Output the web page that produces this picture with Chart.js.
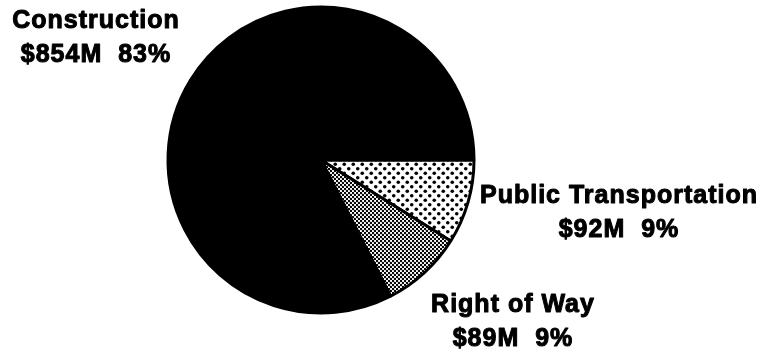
<!DOCTYPE html>
<html>
<head>
<meta charset="utf-8">
<script src="https://cdn.jsdelivr.net/npm/chart.js@4/dist/chart.umd.min.js"></script>
<style>
  html, body { margin: 0; padding: 0; background: #fff; }
  #wrap { width: 761px; height: 352px; }
</style>
</head>
<body>
<div id="wrap"><canvas id="c" width="761" height="352"></canvas></div>
<script>
// Budget shares (millions of dollars), drawn clockwise from 3 o'clock
const categories = ['Public Transportation', 'Right of Way', 'Construction'];
const amounts = [92, 89, 854];

// Where each two-line caption sits: [centerX, baseline of first line]
const captionAnchors = [
  [619, 203],
  [513, 312],
  [96, 28]
];

function dotPattern(size, dots, r) {
  const c = document.createElement('canvas');
  c.width = size; c.height = size;
  const g = c.getContext('2d');
  g.fillStyle = '#fff';
  g.fillRect(0, 0, size, size);
  g.fillStyle = '#000';
  dots.forEach(([x, y]) => {
    g.beginPath();
    g.arc(x, y, r, 0, Math.PI * 2);
    g.fill();
  });
  return g.createPattern(c, 'repeat');
}

const ctx = document.getElementById('c').getContext('2d');
// Coarse dot screen and fine gray stipple
const coarseDots = dotPattern(9, [[2.25, 2.25], [6.75, 6.75]], 1.8);
const fineDots = dotPattern(4, [[1, 1], [3, 3]], 1.2);

const total = amounts.reduce((a, b) => a + b, 0);

const captions = {
  id: 'captions',
  afterDraw(chart) {
    const g = chart.ctx;
    g.save();
    g.fillStyle = '#000';
    g.strokeStyle = '#000';
    g.lineWidth = 1;
    g.lineJoin = 'round';
    g.textAlign = 'center';
    g.textBaseline = 'alphabetic';
    g.font = 'bold 25px "Liberation Sans", Arial, sans-serif';
    if ('letterSpacing' in g) g.letterSpacing = '1px';
    categories.forEach((name, i) => {
      const [x, y] = captionAnchors[i];
      const pct = Math.round(amounts[i] / total * 100);
      const lines = [name, '$' + amounts[i] + 'M  ' + pct + '%'];
      lines.forEach((t, k) => {
        g.fillText(t, x, y + k * 34);
        g.strokeText(t, x, y + k * 34);
      });
    });
    g.restore();
  }
};

new Chart(ctx, {
  type: 'pie',
  data: {
    labels: categories,
    datasets: [{
      data: amounts,
      backgroundColor: [coarseDots, fineDots, '#000'],
      borderColor: '#000',
      borderWidth: 3
    }]
  },
  options: {
    responsive: false,
    animation: false,
    rotation: 90,
    radius: 153,
    layout: { padding: { left: 0, right: 119, top: 0, bottom: 32 } },
    plugins: {
      legend: { display: false },
      tooltip: { enabled: false }
    }
  },
  plugins: [captions]
});
</script>
</body>
</html>
